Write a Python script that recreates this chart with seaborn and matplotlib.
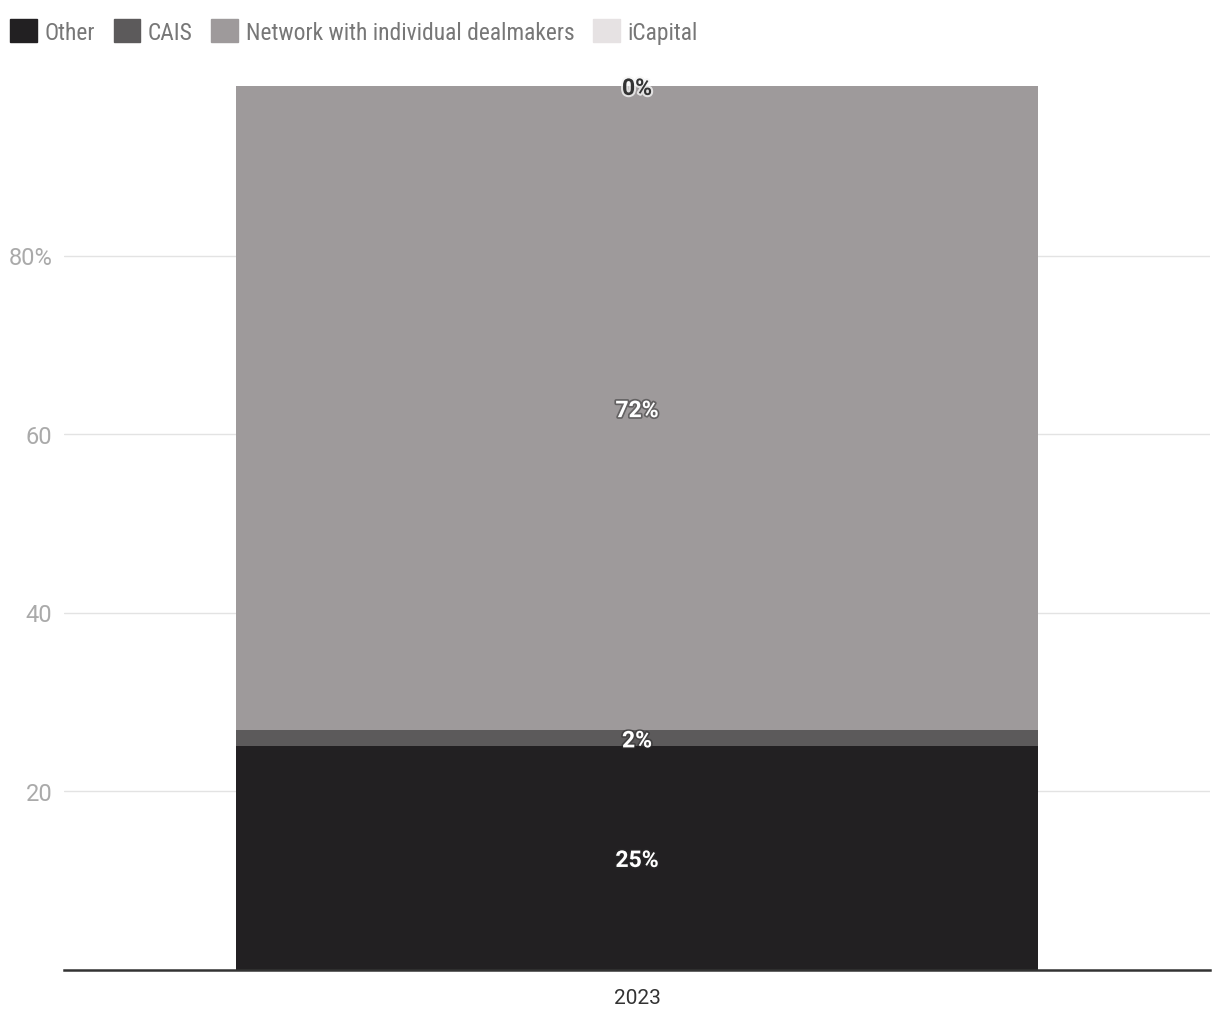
import matplotlib
matplotlib.use("Agg")
import matplotlib.pyplot as plt
import matplotlib.patheffects as pe
from matplotlib import font_manager as fm
import seaborn as sns
import pandas as pd

categories = ["2023"]
series_names = ["Other", "CAIS", "Network with individual dealmakers", "iCapital"]
other = [25.0]
cais = [1.8]
network = [72.2]
icapital = [0.0]
labels = ["25%", "2%", "72%", "0%"]
colors = ["#222022", "#5c5a5b", "#9e9a9b", "#e6e2e3"]
yticks = [20, 40, 60, 80]
ytick_labels = ["20", "40", "60", "80%"]

available = {f.name for f in fm.fontManager.ttflist}
prefs = ["Roboto Condensed", "Archivo Narrow", "Barlow Semi Condensed", "Roboto"]
cond_family = next((p for p in prefs if p in available), "DejaVu Sans")

sns.set_theme(style="white")
plt.rcParams['font.family'] = ['Roboto', 'DejaVu Sans']

fig = plt.figure(figsize=(12.2, 10.2), dpi=100)
ax = fig.add_axes([64/1220, 1-970.5/1020, (1210-64)/1220, 892.5/1020])

vals = [other, cais, network, icapital]
df = pd.DataFrame({n: v for n, v in zip(series_names, vals)}, index=categories)
cum = df.cumsum(axis=1)

for name, col in reversed(list(zip(series_names, colors))):
    sns.barplot(x=categories, y=cum[name].values, color=col, width=0.7,
                ax=ax, saturation=1, linewidth=0, zorder=2)

ax.set_ylim(0, 100)
ax.set_xlim(-0.5, 0.5)
ax.set_yticks(yticks)
ax.set_yticklabels(ytick_labels)
ax.tick_params(axis='y', length=0, labelsize=17, labelcolor="#aaaaaa", pad=8.5)
ax.tick_params(axis='x', length=0, labelsize=15, labelcolor="#333333", pad=13)
ax.grid(axis='y', color="#e3e3e3", linewidth=1, zorder=0)
ax.set_axisbelow(True)
for s in ["top", "right", "left"]:
    ax.spines[s].set_visible(False)
ax.spines["bottom"].set_color("#333333")
ax.spines["bottom"].set_linewidth(1.8)
ax.spines["bottom"].set_zorder(5)

for i, cat in enumerate(categories):
    base = 0.0
    for j, name in enumerate(series_names):
        v = df.loc[cat, name]
        mid = base + v / 2
        if j == 3:
            ax.text(i, mid, labels[j], ha='center', va='center_baseline', fontsize=16.5,
                    fontweight='bold', color="#333333", zorder=6,
                    path_effects=[pe.withStroke(linewidth=3, foreground="#f4f4f4", alpha=0.8)])
        else:
            ax.text(i, mid, labels[j], ha='center', va='center_baseline', fontsize=16.5,
                    fontweight='bold', color="white", zorder=6,
                    path_effects=[pe.withStroke(linewidth=2.5, foreground="#2a2a2a", alpha=0.5)])
        base += v

ax.set_xlabel("")
ax.set_ylabel("")

handles = [plt.Rectangle((0, 0), 1, 1, color=c) for c in colors]
leg = fig.legend(handles, series_names, loc='upper left',
                 bbox_to_anchor=(10/1220, 1 - 20/1020),
                 ncol=4, frameon=False, labelcolor="#777777",
                 prop={'family': [cond_family, 'DejaVu Sans'], 'size': 16.9},
                 handlelength=1.13, handleheight=1.16, handletextpad=0.33,
                 columnspacing=0.8, borderaxespad=0, borderpad=0)

fig.savefig("out.png", dpi=100)
